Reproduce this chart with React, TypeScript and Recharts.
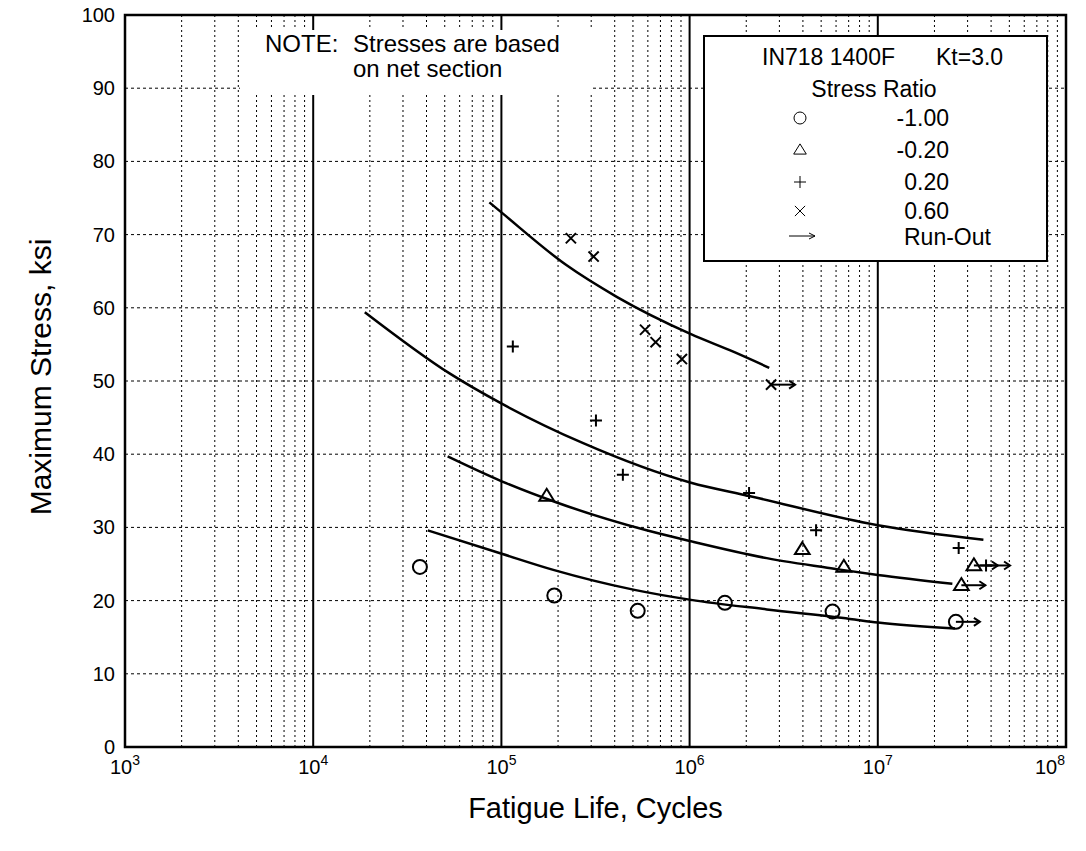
import React from 'react';
import {
  ComposedChart,
  Line,
  Scatter,
  XAxis,
  YAxis,
  ReferenceLine,
  ReferenceArea,
  Legend,
} from 'recharts';

// ---------- axes / ticks ----------
const decades = [1e3, 1e4, 1e5, 1e6, 1e7, 1e8];
const minorMultipliers = [2, 3, 4, 5, 6, 7, 8, 9];
const yTicks = [0, 10, 20, 30, 40, 50, 60, 70, 80, 90, 100];

// ---------- fitted curves ----------
const curveRm100 = [
  { x: 40600, y: 29.6 },
  { x: 100400, y: 26.4 },
  { x: 188700, y: 24.2 },
  { x: 502000, y: 21.5 },
  { x: 1017000, y: 20.1 },
  { x: 2570000, y: 18.8 },
  { x: 7110000, y: 17.5 },
  { x: 10000000, y: 17.0 },
  { x: 25700000, y: 16.2 },
];
const curveRm020 = [
  { x: 51800, y: 39.7 },
  { x: 100400, y: 36.3 },
  { x: 196700, y: 33.4 },
  { x: 591000, y: 29.6 },
  { x: 1017000, y: 28.1 },
  { x: 2570000, y: 25.8 },
  { x: 6050000, y: 24.3 },
  { x: 10000000, y: 23.5 },
  { x: 24900000, y: 22.3 },
];
const curveR020 = [
  { x: 18800, y: 59.4 },
  { x: 53300, y: 51.0 },
  { x: 100400, y: 46.9 },
  { x: 272000, y: 41.5 },
  { x: 1017000, y: 36.1 },
  { x: 2070000, y: 34.3 },
  { x: 10000000, y: 30.3 },
  { x: 36400000, y: 28.3 },
];
const curveR060 = [
  { x: 86300, y: 74.4 },
  { x: 100400, y: 73.0 },
  { x: 222300, y: 65.8 },
  { x: 410000, y: 61.5 },
  { x: 1017000, y: 56.4 },
  { x: 1706000, y: 54.0 },
  { x: 2650000, y: 51.8 },
];

// ---------- test points (runout = test stopped without failure) ----------
const ptsRm100 = [
  { x: 36900, y: 24.6 },
  { x: 191000, y: 20.7 },
  { x: 530000, y: 18.6 },
  { x: 1540000, y: 19.7 },
  { x: 5750000, y: 18.5 },
  { x: 26000000, y: 17.1, runout: true },
];
const ptsRm020 = [
  { x: 174000, y: 34.3 },
  { x: 3970000, y: 27.0 },
  { x: 6600000, y: 24.6 },
  { x: 32400000, y: 24.8, runout: true },
  { x: 27800000, y: 22.1, runout: true },
];
const ptsR020 = [
  { x: 115000, y: 54.7 },
  { x: 318000, y: 44.6 },
  { x: 442000, y: 37.2 },
  { x: 2070000, y: 34.7 },
  { x: 4700000, y: 29.6 },
  { x: 26900000, y: 27.2 },
  { x: 37600000, y: 24.8, runout: true },
];
const ptsR060 = [
  { x: 234000, y: 69.5 },
  { x: 309000, y: 67.0 },
  { x: 580000, y: 57.0 },
  { x: 660000, y: 55.3 },
  { x: 910000, y: 53.0 },
  { x: 2710000, y: 49.5, runout: true },
];

const ratioLabels = ['-1.00', '-0.20', '0.20', '0.60'];
const markerKinds = ['circle', 'triangle', 'plus', 'cross'];
const legendTitleA = 'IN718 1400F';
const legendTitleB = 'Kt=3.0';
const legendSubtitle = 'Stress Ratio';
const runoutLabel = 'Run-Out';
const noteLead = 'NOTE:';
const noteLines = ['Stresses are based', 'on net section'];
const xTitle = 'Fatigue Life, Cycles';
const yTitle = 'Maximum Stress, ksi';

const FONT = '"Liberation Sans", Arial, Helvetica, sans-serif';

const minorLines: number[] = [];
decades.slice(0, -1).forEach((d) => minorMultipliers.forEach((m) => minorLines.push(d * m)));

function drawSymbol(kind: string, cx: number, cy: number, sw: number, s: number) {
  const st = { stroke: '#000', strokeWidth: sw, fill: 'none' };
  if (kind === 'circle') return <circle cx={cx} cy={cy} r={s} {...st} />;
  if (kind === 'triangle') {
    const h = s * 1.7;
    const w = s * 2.1;
    return (
      <path
        d={`M${cx},${cy - h * 0.6}L${cx + w / 2},${cy + h * 0.4}L${cx - w / 2},${cy + h * 0.4}Z`}
        {...st}
        strokeLinejoin="miter"
      />
    );
  }
  if (kind === 'plus')
    return <path d={`M${cx - s},${cy}L${cx + s},${cy}M${cx},${cy - s}L${cx},${cy + s}`} {...st} />;
  const c = s * 0.85;
  return (
    <path d={`M${cx - c},${cy - c}L${cx + c},${cy + c}M${cx - c},${cy + c}L${cx + c},${cy - c}`} {...st} />
  );
}

function makeShape(kind: string) {
  return (props: any) => {
    const { cx, cy, payload } = props;
    if (cx == null || cy == null) return <g />;
    const size = kind === 'circle' ? 7 : kind === 'triangle' ? 7 : 6;
    return (
      <g>
        {payload && payload.runout && (
          <g stroke="#000" strokeWidth={2} fill="none">
            <line x1={cx} y1={cy} x2={cx + 24} y2={cy} />
            <path d={`M${cx + 18},${cy - 4}L${cx + 24},${cy}L${cx + 18},${cy + 4}`} />
          </g>
        )}
        {drawSymbol(kind, cx, cy, 2, size)}
      </g>
    );
  };
}

const XTick = (props: any) => {
  const { x, y, payload } = props;
  const exp = Math.round(Math.log10(payload.value));
  return (
    <text x={x} y={y + 27} textAnchor="middle" fontSize={20} fontFamily={FONT} fill="#000">
      <tspan>10</tspan>
      <tspan dy={-9} fontSize={14}>
        {exp}
      </tspan>
    </text>
  );
};

const YTick = (props: any) => {
  const { x, y, payload } = props;
  return (
    <text x={x} y={y} textAnchor="end" dominantBaseline="central" fontSize={20} fontFamily={FONT} fill="#000">
      {payload.value}
    </text>
  );
};

const XTitle = (props: any) => {
  const vb = props.viewBox || { x: 0, y: 0, width: 0, height: 0 };
  return (
    <text
      x={vb.x + vb.width / 2}
      y={vb.y + 61}
      textAnchor="middle"
      dominantBaseline="central"
      fontSize={29}
      fontFamily={FONT}
      fill="#000"
    >
      {xTitle}
    </text>
  );
};

const YTitle = (props: any) => {
  const vb = props.viewBox || { x: 0, y: 0, width: 0, height: 0 };
  const cx = 40;
  const cy = vb.y + vb.height / 2 - 4;
  return (
    <text
      x={cx}
      y={cy}
      transform={`rotate(-90, ${cx}, ${cy})`}
      textAnchor="middle"
      dominantBaseline="central"
      fontSize={30}
      fontFamily={FONT}
      fill="#000"
    >
      {yTitle}
    </text>
  );
};

const LegendBox = () => {
  const rowsY = [83, 115, 147, 176];
  const t = { fontSize: 23, fontFamily: FONT, fill: '#000' };
  return (
    <div style={{ width: 345, height: 227, background: '#fff' }}>
      <svg width={345} height={227} style={{ display: 'block' }}>
        <rect x={1} y={1} width={343} height={225} fill="#fff" stroke="#000" strokeWidth={2} />
        <text x={59} y={22} dominantBaseline="central" {...t}>
          {legendTitleA}
        </text>
        <text x={233} y={22} dominantBaseline="central" {...t}>
          {legendTitleB}
        </text>
        <text x={171} y={54} textAnchor="middle" dominantBaseline="central" {...t}>
          {legendSubtitle}
        </text>
        {ratioLabels.map((lab, i) => (
          <g key={lab}>
            {drawSymbol(markerKinds[i], 97, rowsY[i], 1, 6)}
            <text x={246} y={rowsY[i]} textAnchor="end" dominantBaseline="central" {...t}>
              {lab}
            </text>
          </g>
        ))}
        <g stroke="#000" strokeWidth={1} fill="none">
          <line x1={86} y1={201} x2={112} y2={201} />
          <path d="M106,198L112,201L106,204" />
        </g>
        <text x={201} y={202} dominantBaseline="central" {...t}>
          {runoutLabel}
        </text>
      </svg>
    </div>
  );
};

const NoteBox = () => (
  <div
    style={{
      position: 'absolute',
      left: 240,
      top: 30,
      width: 353,
      height: 65,
      background: '#fff',
    }}
  >
    <svg width={353} height={65} style={{ display: 'block' }}>
      <text x={25} y={22} fontSize={24} fontFamily={FONT} fill="#000">
        {noteLead}
      </text>
      <text x={113} y={22} fontSize={24} fontFamily={FONT} fill="#000">
        {noteLines[0]}
      </text>
      <text x={113} y={47} fontSize={24} fontFamily={FONT} fill="#000">
        {noteLines[1]}
      </text>
    </svg>
  </div>
);

export default function App() {
  return (
    <div style={{ position: 'relative', marginTop: -8, marginLeft: -8, width: 1086, height: 843 }}>
      <ComposedChart
        width={1086}
        height={843}
        margin={{ top: 15, right: 20, bottom: 0, left: 0 }}
        style={{ fontFamily: FONT }}
      >
        <XAxis
          dataKey="x"
          type="number"
          scale="log"
          domain={[1e3, 1e8]}
          allowDataOverflow
          ticks={decades}
          tick={<XTick />}
          tickLine={false}
          tickSize={0}
          tickMargin={0}
          axisLine={false}
          height={96}
          label={XTitle}
        />
        <YAxis
          type="number"
          domain={[0, 100]}
          ticks={yTicks}
          tick={<YTick />}
          tickLine={false}
          tickSize={0}
          tickMargin={10}
          axisLine={false}
          width={125}
          label={YTitle}
        />
        {minorLines.map((v) => (
          <ReferenceLine key={'m' + v} x={v} stroke="#000" strokeWidth={1} strokeDasharray="2 3" />
        ))}
        {yTicks.slice(1, -1).map((v) => (
          <ReferenceLine key={'h' + v} y={v} stroke="#000" strokeWidth={1} strokeDasharray="3 3" />
        ))}
        {decades.slice(1, -1).map((v) => (
          <ReferenceLine key={'d' + v} x={v} stroke="#000" strokeWidth={2} />
        ))}
        <Line data={curveRm100} dataKey="y" type="monotone" stroke="#000" strokeWidth={2.5} dot={false} isAnimationActive={false} />
        <Line data={curveRm020} dataKey="y" type="monotone" stroke="#000" strokeWidth={2.5} dot={false} isAnimationActive={false} />
        <Line data={curveR020} dataKey="y" type="monotone" stroke="#000" strokeWidth={2.5} dot={false} isAnimationActive={false} />
        <Line data={curveR060} dataKey="y" type="monotone" stroke="#000" strokeWidth={2.5} dot={false} isAnimationActive={false} />
        <Scatter data={ptsRm100} dataKey="y" shape={makeShape('circle')} isAnimationActive={false} />
        <Scatter data={ptsRm020} dataKey="y" shape={makeShape('triangle')} isAnimationActive={false} />
        <Scatter data={ptsR020} dataKey="y" shape={makeShape('plus')} isAnimationActive={false} />
        <Scatter data={ptsR060} dataKey="y" shape={makeShape('cross')} isAnimationActive={false} />
        <ReferenceArea x1={1e3} x2={1e8} y1={0} y2={100} fill="none" stroke="#000" strokeWidth={2.5} />
        <Legend
          layout="horizontal"
          verticalAlign="middle"
          align="center"
          content={LegendBox}
          wrapperStyle={{ left: 703, top: 35, width: 345, height: 227 }}
        />
      </ComposedChart>
      <NoteBox />
    </div>
  );
}
